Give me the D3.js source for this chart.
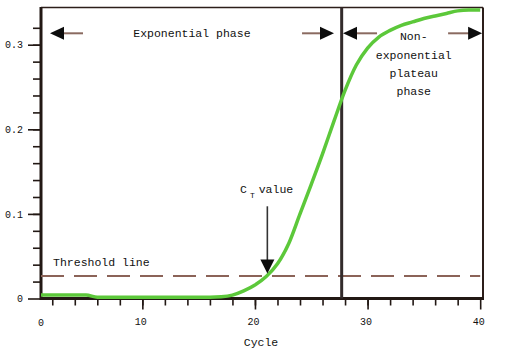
<!DOCTYPE html>
<html>
<head>
<meta charset="utf-8">
<script src="https://cdn.jsdelivr.net/npm/d3@7"></script>
<style>
  body { margin: 0; background: #fff; }
  text { font-family: "Liberation Mono", "DejaVu Sans Mono", monospace; fill: #111; }
</style>
</head>
<body>
<div id="chart"></div>
<script>
// Fluorescence per cycle
const cycles = d3.range(1, 41);
const signal = [
  0.004, 0.004, 0.004, 0.004, 0.004, 0.0015, 0.0015, 0.0015, 0.0015, 0.0015,
  0.0015, 0.0015, 0.0015, 0.0015, 0.0015, 0.0015, 0.002, 0.004, 0.009, 0.016,
  0.026, 0.041, 0.065, 0.100, 0.135, 0.171, 0.209, 0.246, 0.276, 0.296,
  0.309, 0.317, 0.323, 0.327, 0.331, 0.334, 0.337, 0.340, 0.341, 0.341
];
const threshold = 0.0266;
const phaseBoundary = 27.7;
const xMajorTicks = [10, 20, 30, 40];
const xMinorTicks = d3.range(2, 40, 2);
const yMajorTicks = [0, 0.1, 0.2, 0.3];
const yMinorTicks = d3.range(0.02, 0.34, 0.02);

const width = 522, height = 353;
const svg = d3.select('#chart').append('svg')
    .attr('width', width)
    .attr('height', height);

// scales
const x = d3.scaleLinear().domain([1, 40.25]).range([41, 483]);
const y = d3.scaleLinear().domain([0, 0.344]).range([298.5, 7.5]);

const axisColor = '#221814';

// y axis ticks
svg.append('g')
    .attr('transform', `translate(${x(1)},0)`)
    .call(d3.axisLeft(y).tickValues(yMinorTicks).tickSize(8).tickFormat(''))
    .call(g => g.select('.domain').remove())
    .call(g => g.selectAll('line').attr('stroke', axisColor).attr('stroke-width', 1.6));

svg.append('g')
    .attr('transform', `translate(${x(1)},0)`)
    .call(d3.axisLeft(y).tickValues(yMajorTicks).tickSize(13).tickPadding(5)
        .tickFormat(d => d === 0 ? '0' : d3.format('.1f')(d)))
    .call(g => g.select('.domain').remove())
    .call(g => g.selectAll('line').attr('stroke', axisColor).attr('stroke-width', 1.6))
    .call(g => g.selectAll('text').style('font-size', '10px').attr('font-family', null));

// x axis ticks
svg.append('g')
    .attr('transform', `translate(0,${y(0) + 1})`)
    .call(d3.axisBottom(x).tickValues(xMinorTicks).tickSize(6).tickFormat(''))
    .call(g => g.select('.domain').remove())
    .call(g => g.selectAll('line').attr('stroke', axisColor).attr('stroke-width', 1.6));

svg.append('g')
    .attr('transform', `translate(0,${y(0) + 1})`)
    .call(d3.axisBottom(x).tickValues(xMajorTicks).tickSize(10).tickPadding(8).tickFormat(d3.format('d')))
    .call(g => g.select('.domain').remove())
    .call(g => g.selectAll('line').attr('stroke', axisColor).attr('stroke-width', 1.6))
    .call(g => g.selectAll('text').style('font-size', '10px').attr('font-family', null)
        .attr('dx', '-2px'));

// origin label
svg.append('text')
    .attr('x', x(1))
    .attr('y', y(0) + 27)
    .attr('text-anchor', 'middle')
    .style('font-size', '10px')
    .text('0');

// frame
svg.append('line')
    .attr('x1', x(1)).attr('x2', x.range()[1])
    .attr('y1', y.range()[1]).attr('y2', y.range()[1])
    .attr('stroke', '#2c1e1a').attr('stroke-width', 1.6);
svg.append('line')
    .attr('x1', x.range()[1]).attr('x2', x.range()[1])
    .attr('y1', y.range()[1]).attr('y2', y(0))
    .attr('stroke', '#2c1e1a').attr('stroke-width', 2);
svg.append('line')
    .attr('x1', x(1)).attr('x2', x(1))
    .attr('y1', y.range()[1] - 0.5).attr('y2', y(0) + 1.5)
    .attr('stroke', axisColor).attr('stroke-width', 3);
svg.append('line')
    .attr('x1', x(1)).attr('x2', x.range()[1] + 1)
    .attr('y1', y(0)).attr('y2', y(0))
    .attr('stroke', axisColor).attr('stroke-width', 3);

// threshold line
svg.append('line')
    .attr('x1', x(1)).attr('x2', x(40))
    .attr('y1', y(threshold)).attr('y2', y(threshold))
    .attr('stroke', '#8b6358')
    .attr('stroke-width', 2.2)
    .attr('stroke-dasharray', '23,10');

// phase boundary
svg.append('line')
    .attr('x1', x(phaseBoundary)).attr('x2', x(phaseBoundary))
    .attr('y1', y.range()[1]).attr('y2', y(0))
    .attr('stroke', '#332b2b')
    .attr('stroke-width', 3);

// amplification curve
const line = d3.line()
    .x((d, i) => x(cycles[i]))
    .y(d => y(d))
    .curve(d3.curveMonotoneX);

svg.append('path')
    .datum(signal)
    .attr('d', line)
    .attr('fill', 'none')
    .attr('stroke', '#5cc83a')
    .attr('stroke-width', 3.5);

// arrows
function arrow(c0, c1, v, shaftColor) {
    const x0 = x(c0), x1 = x(c1), yy = y(v);
    const dir = Math.sign(x1 - x0);
    svg.append('line')
        .attr('x1', x0).attr('x2', x1 - dir * 10)
        .attr('y1', yy).attr('y2', yy)
        .attr('stroke', shaftColor).attr('stroke-width', 2);
    svg.append('path')
        .attr('d', `M${x1},${yy} L${x1 - dir * 14},${yy - 6.5} L${x1 - dir * 14},${yy + 6.5} Z`)
        .attr('fill', '#0c0c0c');
}
const arrowY = 0.3135;
arrow(4.73, 1.8, arrowY, '#8a6a60');
arrow(24.18, 27.02, arrowY, '#8a6a60');
arrow(30.84, 27.82, arrowY, '#8a6a60');
arrow(37.15, 40.17, arrowY, '#8a6a60');

// Ct arrow
const ctCycle = 21.1;
svg.append('line')
    .attr('x1', x(ctCycle)).attr('x2', x(ctCycle))
    .attr('y1', y(0.109)).attr('y2', y(0.045))
    .attr('stroke', '#333').attr('stroke-width', 1.6);
svg.append('path')
    .attr('d', `M${x(ctCycle)},${y(0.0295)} L${x(ctCycle) - 7},${y(0.0295) - 14} L${x(ctCycle) + 7},${y(0.0295) - 14} Z`)
    .attr('fill', '#0c0c0c');

// labels
svg.append('text')
    .attr('x', x(14.4)).attr('y', y(0.309))
    .attr('text-anchor', 'middle')
    .style('font-size', '11.5px')
    .text('Exponential phase');

const plateau = svg.append('text')
    .attr('x', x(34.1)).attr('y', y(0.305))
    .attr('text-anchor', 'middle')
    .style('font-size', '11.5px');
['Non-', 'exponential', 'plateau', 'phase'].forEach((t, i) => {
    plateau.append('tspan')
        .attr('x', x(34.1))
        .attr('dy', i === 0 ? 0 : 18.3)
        .text(t);
});

svg.append('text')
    .attr('x', x(2.07)).attr('y', y(0.038))
    .style('font-size', '11.5px')
    .text('Threshold line');

const ct = svg.append('text')
    .attr('x', x(18.67)).attr('y', y(0.1245))
    .style('font-size', '11.5px');
ct.append('tspan').text('C');
ct.append('tspan').attr('dy', 5).attr('dx', 3).style('font-size', '8px').text('T');
ct.append('tspan').attr('dy', -5).attr('dx', 4).text('value');

svg.append('text')
    .attr('x', 261).attr('y', 346)
    .attr('text-anchor', 'middle')
    .style('font-size', '11.5px')
    .text('Cycle');
</script>
</body>
</html>
